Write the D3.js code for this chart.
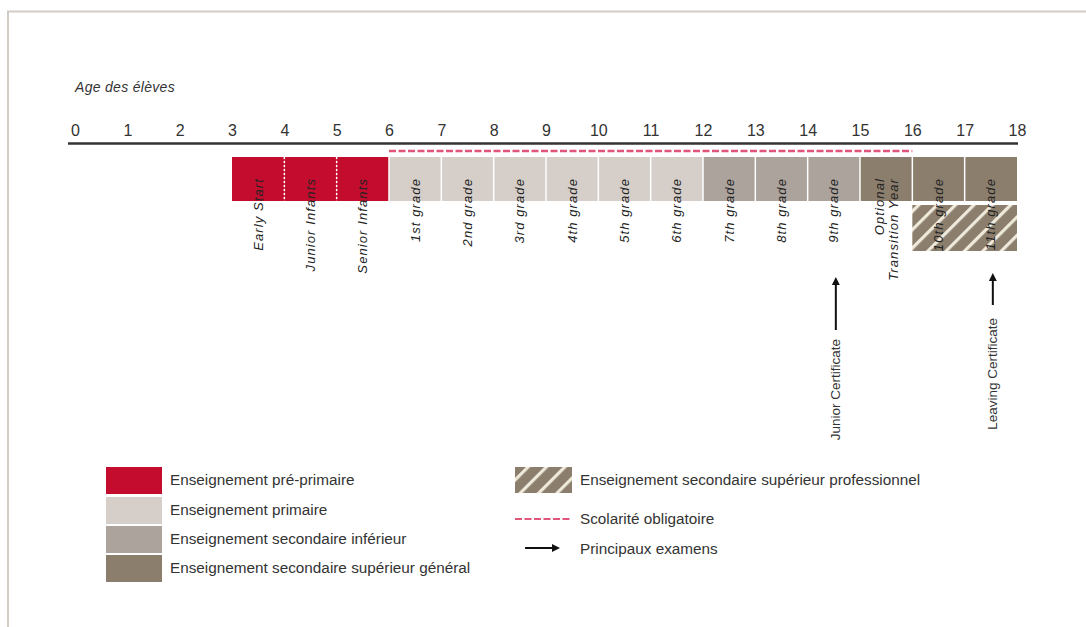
<!DOCTYPE html>
<html><head><meta charset="utf-8">
<script src="https://cdn.jsdelivr.net/npm/d3@7/dist/d3.min.js"></script>
<style>body{margin:0;background:#fff}svg{display:block}</style>
</head><body>
<svg id="c" width="1086" height="627"></svg>
<script>
// ---- data ----
const ageTicks = [0,1,2,3,4,5,6,7,8,9,10,11,12,13,14,15,16,17,18];
const gradeLabels = ["Early Start","Junior Infants","Senior Infants","1st grade","2nd grade","3rd grade","4th grade","5th grade","6th grade","7th grade","8th grade","9th grade",["Optional","Transition Year"],"10th grade","11th grade"];
const gradeStart = [3,4,5,6,7,8,9,10,11,12,13,14,15,16,17];
const gradeLevel = ["pre","pre","pre","prim","prim","prim","prim","prim","prim","inf","inf","inf","gen","gen","gen"];
const vocational = [16,18];
const compulsory = [6,16];
const examLabels = ["Junior Certificate","Leaving Certificate"];
const examAge = [14.5,17.5];
const legendKeys = ["pre","prim","inf","gen"];
const legendLabels = ["Enseignement pré-primaire","Enseignement primaire","Enseignement secondaire inférieur","Enseignement secondaire supérieur général"];
const legendRight = ["Enseignement secondaire supérieur professionnel","Scolarité obligatoire","Principaux examens"];
const axisTitle = "Age des élèves";

const colors = {pre:"#c40d2e", prim:"#d6cfc9", inf:"#aca39d", gen:"#8b7e6c"};
const FONT = "Liberation Sans, Arial, sans-serif";

const svg = d3.select("#c");
const x = d3.scaleLinear().domain([0,18]).range([75,1017]);

// frame
svg.append("line").attr("x1",7).attr("x2",1086).attr("y1",11.5).attr("y2",11.5).attr("stroke","#d3ccc5").attr("stroke-width",2);
svg.append("line").attr("x1",8).attr("x2",8).attr("y1",11).attr("y2",627).attr("stroke","#d3ccc5").attr("stroke-width",2);

const defs = svg.append("defs");
const pat = defs.append("pattern").attr("id","hatch").attr("patternUnits","userSpaceOnUse")
  .attr("width",13).attr("height",13).attr("patternTransform","rotate(45)");
pat.append("rect").attr("width",13).attr("height",13).attr("fill",colors.gen);
pat.append("rect").attr("x",0).attr("width",3.2).attr("height",13).attr("fill","#efe9dc");
defs.append("marker").attr("id","arr").attr("viewBox","0 0 10 10").attr("refX",5).attr("refY",5)
  .attr("markerWidth",4).attr("markerHeight",4).attr("orient","auto-start-reverse")
  .append("path").attr("d","M0,0L10,5L0,10z").attr("fill","#111");

// axis title
svg.append("text").attr("x",75).attr("y",92).attr("font-family",FONT)
  .attr("font-style","italic").attr("font-size",14).attr("letter-spacing",0.3).attr("fill","#333").text(axisTitle);

// axis
const ax = svg.append("g").attr("transform","translate(0,136)")
  .call(d3.axisTop(x).tickValues(ageTicks).tickSize(0).tickPadding(0).tickFormat(d3.format("d")));
ax.select(".domain").remove();
ax.selectAll("text").attr("font-family",FONT).attr("font-size",16).attr("fill","#333");
svg.append("line").attr("x1",x(0)-7).attr("x2",x(18)+1).attr("y1",143.5).attr("y2",143.5)
  .attr("stroke","#333").attr("stroke-width",2.5);

// compulsory dashed
svg.append("line").attr("x1",x(compulsory[0])).attr("x2",x(compulsory[1])).attr("y1",151).attr("y2",151)
  .attr("stroke","#e0557a").attr("stroke-width",2.5).attr("stroke-dasharray","7,2.5");

// bars
const by = 157, bh = 44;
svg.selectAll("rect.cell").data(gradeStart).join("rect").attr("class","cell")
  .attr("x",d=>x(d)).attr("y",by).attr("width",d=>x(d+1)-x(d)).attr("height",bh)
  .attr("fill",(d,i)=>colors[gradeLevel[i]]);
svg.selectAll("line.sep").data(gradeStart.slice(1)).join("line").attr("class","sep")
  .attr("x1",d=>x(d)).attr("x2",d=>x(d)).attr("y1",by).attr("y2",by+bh)
  .attr("stroke","#fff").attr("stroke-width",1.5)
  .attr("stroke-dasharray",(d,i)=>gradeLevel[i+1]==="pre"?"2,2":null);
// vocational hatched
svg.append("rect").attr("x",x(vocational[0])).attr("y",205).attr("width",x(vocational[1])-x(vocational[0])).attr("height",46)
  .attr("fill","url(#hatch)");

// grade labels
const gl = svg.selectAll("g.gl").data(gradeLabels).join("g").attr("class","gl")
  .attr("transform",(d,i)=>`translate(${(x(gradeStart[i])+x(gradeStart[i]+1))/2},178) rotate(-90)`);
gl.each(function(d){
  const g = d3.select(this);
  const lines = Array.isArray(d)?d:[d];
  lines.forEach((t,j)=>{
    g.append("text").attr("x",0).attr("y",4.5 + (j-(lines.length-1)/2)*14)
      .attr("text-anchor","end").attr("font-family",FONT)
      .attr("font-style","italic").attr("font-size",13).attr("letter-spacing",1.1).attr("fill","#222").text(t);
  });
});

// exams
const examTop = [277,273], examBot = [330,305], textTop = [339,318];
examAge.forEach((a,i)=>{
  svg.append("line").attr("x1",x(a)+2).attr("x2",x(a)+2).attr("y1",examBot[i]).attr("y2",examTop[i]+4)
    .attr("stroke","#111").attr("stroke-width",2).attr("marker-end","url(#arr)");
  svg.append("text").attr("transform",`translate(${x(a)+6.5},${textTop[i]}) rotate(-90)`)
    .attr("text-anchor","end").attr("font-family",FONT)
    .attr("font-size",13.5).attr("fill","#333").text(examLabels[i]);
});

// legend left
const ly = [467,497,526,555];
legendKeys.forEach((k,i)=>{
  svg.append("rect").attr("x",106).attr("y",ly[i]).attr("width",56).attr("height",27).attr("fill",colors[k]);
  svg.append("text").attr("x",170).attr("y",ly[i]+18).attr("font-family",FONT)
    .attr("font-size",15.3).attr("fill","#333").text(legendLabels[i]);
});
// legend right
svg.append("rect").attr("x",515).attr("y",467).attr("width",57).attr("height",26).attr("fill","url(#hatch)");
svg.append("line").attr("x1",515).attr("x2",570).attr("y1",519).attr("y2",519).attr("stroke","#e0557a").attr("stroke-width",2).attr("stroke-dasharray","7,2.5");
svg.append("line").attr("x1",525).attr("x2",556).attr("y1",548).attr("y2",548).attr("stroke","#111").attr("stroke-width",2).attr("marker-end","url(#arr)");
[485,524,554].forEach((yy,i)=>{
  svg.append("text").attr("x",580).attr("y",yy).attr("font-family",FONT)
    .attr("font-size",15.3).attr("fill","#333").text(legendRight[i]);
});
</script>
</body></html>
